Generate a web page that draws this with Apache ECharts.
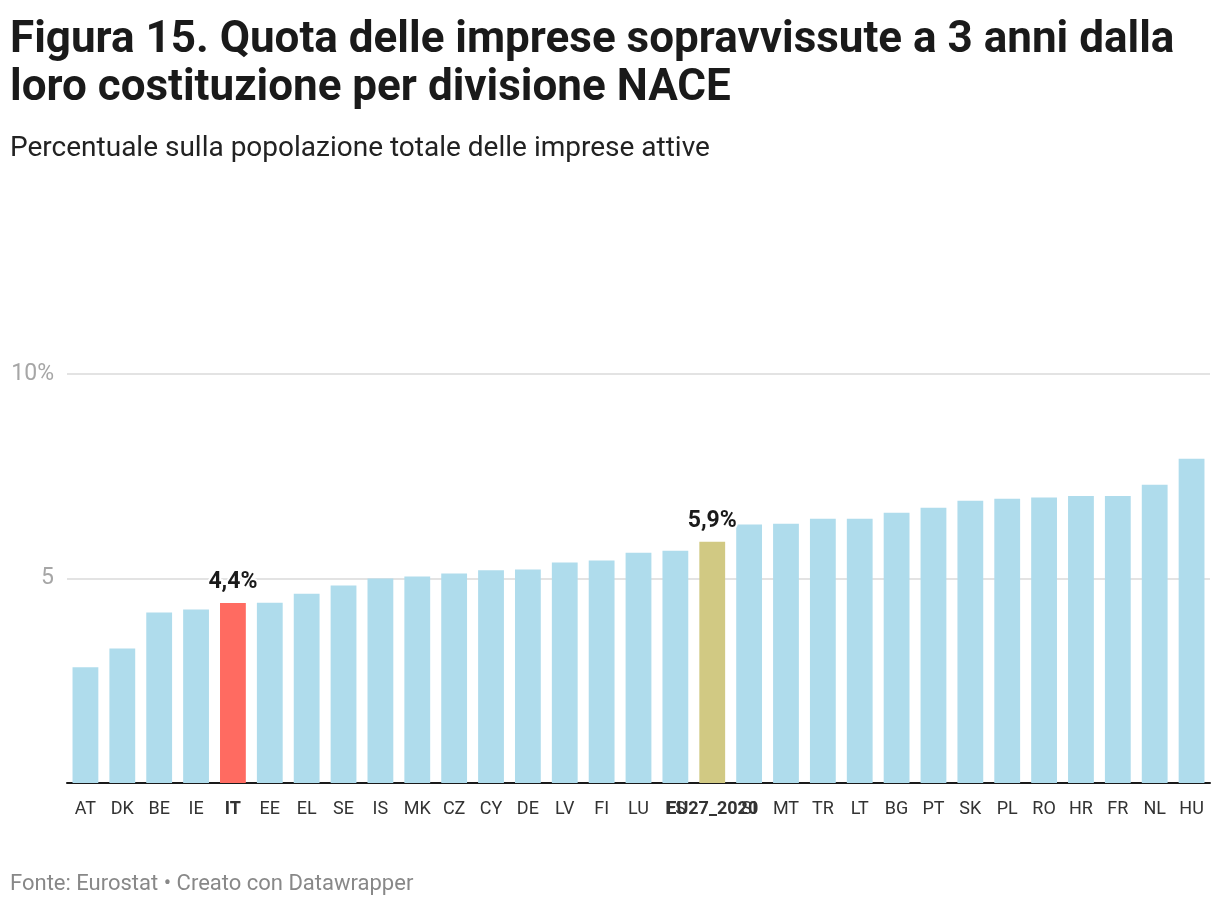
<!DOCTYPE html>
<html>
<head>
<meta charset="utf-8">
<script src="https://cdn.jsdelivr.net/npm/echarts@6/dist/echarts.min.js"></script>
<style>
html,body{margin:0;padding:0;background:#fff;}
#chart{width:1220px;height:904px;}
</style>
</head>
<body>
<div id="chart"></div>
<script>
const categories = ['AT','DK','BE','IE','IT','EE','EL','SE','IS','MK','CZ','CY','DE','LV','FI','LU','ES','EU27_2020','SI','MT','TR','LT','BG','PT','SK','PL','RO','HR','FR','NL','HU'];
const values = [2.83,3.29,4.17,4.24,4.4,4.41,4.63,4.83,5.0,5.05,5.12,5.2,5.22,5.39,5.44,5.63,5.68,5.9,6.32,6.34,6.46,6.46,6.61,6.73,6.9,6.95,6.98,7.02,7.02,7.29,7.93];
const yTicks = [0,5,10];
const highlightItaly = 'IT';
const highlightEU = 'EU27_2020';

const chart = echarts.init(document.getElementById('chart'));
const data = categories.map((c,i)=>{
  const item = {value: values[i]};
  if (c === highlightItaly) {
    item.itemStyle = {color:'#ff6b61'};
    item.label = {show:true};
  } else if (c === highlightEU) {
    item.itemStyle = {color:'#d1c983'};
    item.label = {show:true};
  }
  return item;
});
chart.setOption({
  animation:false,
  title:[
    {text:'Figura 15. Quota delle imprese sopravvissute a 3 anni dalla\nloro costituzione per divisione NACE',
     left:5, top:12,
     textStyle:{fontFamily:'Roboto',fontSize:44,fontWeight:'bold',color:'#1a1a1a',lineHeight:48}},
    {text:'Percentuale sulla popolazione totale delle imprese attive',
     left:5, top:130,
     textStyle:{fontFamily:'Roboto',fontSize:28,fontWeight:'normal',color:'#222'}},
    {text:'Fonte: Eurostat • Creato con Datawrapper',
     left:5, top:868,
     textStyle:{fontFamily:'Roboto',fontSize:22,fontWeight:'normal',color:'#888'}}
  ],
  grid:{left:67,right:10,top:374,bottom:121},
  xAxis:{
    type:'category',
    data:categories,
    axisLine:{show:true,lineStyle:{color:'#1a1a1a',width:2}},
    axisTick:{show:false},
    axisLabel:{
      interval:0,margin:17,
      fontFamily:'Roboto',fontSize:18,color:'#333',
      formatter:function(v){ return (v===highlightItaly||v===highlightEU) ? '{b|'+v+'}' : v; },
      rich:{b:{fontFamily:'Roboto',fontSize:18,fontWeight:'bold',color:'#333'}}
    }
  },
  yAxis:{
    type:'value',min:yTicks[0],max:yTicks[yTicks.length-1],interval:5,
    axisLine:{show:false},axisTick:{show:false},
    splitLine:{lineStyle:{color:'#e3e3e3',width:2}},
    axisLabel:{
      margin:13,fontFamily:'Roboto',fontSize:23,color:'#a6a6a6',
      formatter:function(v){ if(v===0) return ''; return v===10 ? v+'%' : String(v); }
    }
  },
  series:[{
    type:'bar',
    data:data,
    barCategoryGap:'30%',
    itemStyle:{color:'#afdcec'},
    label:{
      show:false,position:'top',distance:9,
      fontFamily:'Roboto',fontSize:23,fontWeight:'bold',color:'#1a1a1a',
      textBorderColor:'#fff',textBorderWidth:4,
      formatter:function(p){ return p.value.toFixed(1).replace('.',',')+'%'; }
    }
  }]
});
</script>
</body>
</html>
